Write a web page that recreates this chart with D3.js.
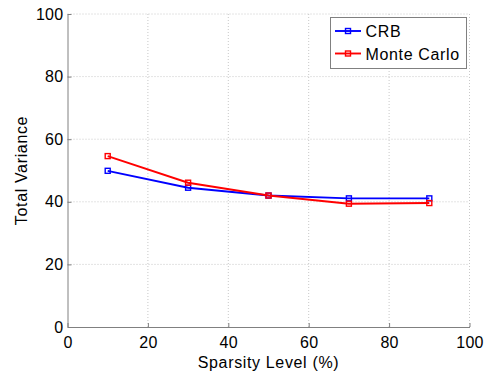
<!DOCTYPE html>
<html>
<head>
<meta charset="utf-8">
<script src="https://cdn.jsdelivr.net/npm/d3@7/dist/d3.min.js"></script>
<style>
  html, body { margin: 0; padding: 0; background: #fff; }
  svg { display: block; font-family: "Liberation Sans", Arial, sans-serif; }
</style>
</head>
<body>
<svg id="chart" width="488" height="379"></svg>
<script>
// Sparsity levels (%) and total variance for each estimator
const sparsity = [10, 30, 50, 70, 90];
const crb = [49.9, 44.5, 42.0, 41.1, 41.1];
const monteCarlo = [54.6, 46.1, 42.0, 39.4, 39.6];
const xTicks = [0, 20, 40, 60, 80, 100];
const yTicks = [0, 20, 40, 60, 80, 100];

const series = [
  { name: "CRB", values: crb, color: "#0000ff" },
  { name: "Monte Carlo", values: monteCarlo, color: "#ff0000" }
];

const svg = d3.select("#chart");
const margin = { left: 67.5, right: 18.5, top: 14, bottom: 52 };
const W = 488, H = 379;
const FONT = "16px";

const x = d3.scaleLinear().domain([0, 100]).range([margin.left, W - margin.right]);
const y = d3.scaleLinear().domain([0, 100]).range([H - margin.bottom, margin.top]);

// dotted grid
const grid = svg.append("g").attr("stroke", "#c8c8c8").attr("stroke-dasharray", "1,2").attr("stroke-width", 1);
xTicks.forEach(t => {
  if (t === 0) return;
  grid.append("line").attr("x1", x(t)).attr("x2", x(t)).attr("y1", y(0)).attr("y2", y(100));
});
yTicks.forEach(t => {
  if (t === 0) return;
  grid.append("line").attr("x1", x(0)).attr("x2", x(100)).attr("y1", y(t)).attr("y2", y(t));
});

// axes with inward ticks
const xAxis = d3.axisBottom(x).tickValues(xTicks).tickSizeInner(-4).tickSizeOuter(0).tickPadding(10);
const yAxis = d3.axisLeft(y).tickValues(yTicks).tickSizeInner(-4).tickSizeOuter(0).tickPadding(4);

const gx = svg.append("g").attr("transform", `translate(0,${y(0)})`).call(xAxis);
const gy = svg.append("g").attr("transform", `translate(${x(0)},0)`).call(yAxis);
[gx, gy].forEach(g => {
  g.select(".domain").attr("stroke", "#808080");
  g.selectAll(".tick line").attr("stroke", "#808080");
  g.selectAll(".tick text").attr("fill", "#000").style("font-size", FONT)
    .style("font-family", "Liberation Sans, Arial, sans-serif").style("letter-spacing", "0.3px");
});

// axis titles
svg.append("text")
  .attr("x", x(50)).attr("y", 368)
  .attr("text-anchor", "middle").style("font-size", FONT).style("letter-spacing", "0.65px")
  .text("Sparsity Level (%)");
svg.append("text")
  .attr("transform", `translate(26.5,${y(50)}) rotate(-90)`)
  .attr("text-anchor", "middle").style("font-size", FONT).style("letter-spacing", "0.65px")
  .text("Total Variance");

// lines and square markers
const line = d3.line().x((d, i) => x(sparsity[i])).y(d => y(d));
series.forEach(s => {
  svg.append("path")
    .datum(s.values)
    .attr("fill", "none").attr("stroke", s.color).attr("stroke-width", 1.9)
    .attr("d", line);
  svg.append("g").selectAll("rect").data(s.values).join("rect")
    .attr("x", (d, i) => x(sparsity[i]) - 2.5)
    .attr("y", d => y(d) - 2.5)
    .attr("width", 5).attr("height", 5)
    .attr("fill", "none").attr("stroke", s.color).attr("stroke-width", 1.4);
});

// legend
const lg = svg.append("g");
lg.append("rect")
  .attr("x", 330.5).attr("y", 17.5).attr("width", 136).attr("height", 51)
  .attr("fill", "#fff").attr("stroke", "#808080").attr("stroke-width", 1);
series.forEach((s, i) => {
  const cy = 31 + i * 22.5;
  lg.append("line").attr("x1", 335).attr("x2", 361).attr("y1", cy).attr("y2", cy)
    .attr("stroke", s.color).attr("stroke-width", 1.9);
  lg.append("rect").attr("x", 345.5).attr("y", cy - 2.5).attr("width", 5).attr("height", 5)
    .attr("fill", "none").attr("stroke", s.color).attr("stroke-width", 1.4);
  lg.append("text").attr("x", 365.5).attr("y", cy + 6).style("font-size", FONT)
    .style("letter-spacing", "0.65px").text(s.name);
});
</script>
</body>
</html>
